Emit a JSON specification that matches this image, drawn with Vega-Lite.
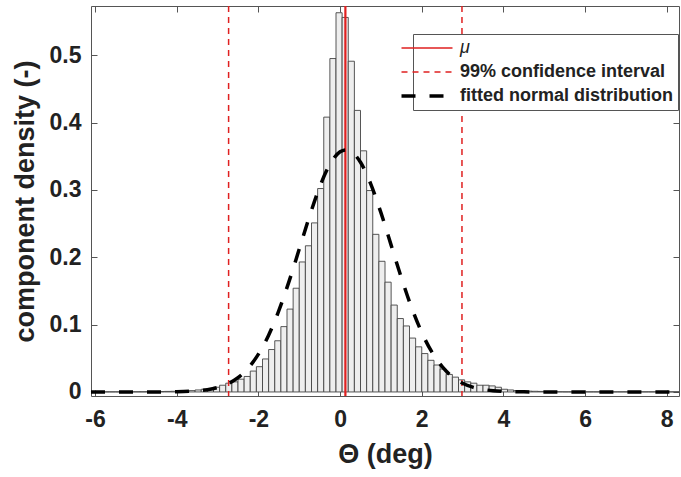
{
  "$schema": "https://vega.github.io/schema/vega-lite/v6.json",
  "autosize": "none",
  "width": 588,
  "height": 390,
  "padding": {"left": 91, "top": 6, "right": 2, "bottom": 81},
  "background": "white",
  "config": {
    "view": {"stroke": "#555555", "strokeWidth": 1},
    "font": "Liberation Sans",
    "axis": {"grid": false, "domain": false, "tickColor": "#555555", "tickSize": -6, "labelColor": "#222222", "titleColor": "#222222", "labelFont": "Liberation Sans", "titleFont": "Liberation Sans"}
  },
  "datasets": {
    "bins": [
      {"lo": -6.1, "hi": -5.95, "v": 0.0002}, {"lo": -5.95, "hi": -5.8, "v": 0.0002}, {"lo": -5.8, "hi": -5.65, "v": 0.0002},
      {"lo": -5.65, "hi": -5.5, "v": 0.0002}, {"lo": -5.5, "hi": -5.35, "v": 0.0002}, {"lo": -5.35, "hi": -5.2, "v": 0.0002},
      {"lo": -5.2, "hi": -5.05, "v": 0.0002}, {"lo": -5.05, "hi": -4.9, "v": 0.0003}, {"lo": -4.9, "hi": -4.75, "v": 0.0003},
      {"lo": -4.75, "hi": -4.6, "v": 0.0004}, {"lo": -4.6, "hi": -4.45, "v": 0.0004}, {"lo": -4.45, "hi": -4.3, "v": 0.0006},
      {"lo": -4.3, "hi": -4.15, "v": 0.0008}, {"lo": -4.15, "hi": -4.0, "v": 0.001}, {"lo": -4.0, "hi": -3.85, "v": 0.0012},
      {"lo": -3.85, "hi": -3.7, "v": 0.0016}, {"lo": -3.7, "hi": -3.55, "v": 0.002}, {"lo": -3.55, "hi": -3.4, "v": 0.003},
      {"lo": -3.4, "hi": -3.25, "v": 0.004}, {"lo": -3.25, "hi": -3.1, "v": 0.005}, {"lo": -3.1, "hi": -2.95, "v": 0.007},
      {"lo": -2.95, "hi": -2.8, "v": 0.010}, {"lo": -2.8, "hi": -2.65, "v": 0.013}, {"lo": -2.65, "hi": -2.5, "v": 0.015},
      {"lo": -2.5, "hi": -2.35, "v": 0.019}, {"lo": -2.35, "hi": -2.2, "v": 0.023}, {"lo": -2.2, "hi": -2.05, "v": 0.031},
      {"lo": -2.05, "hi": -1.9, "v": 0.0375}, {"lo": -1.9, "hi": -1.75, "v": 0.049}, {"lo": -1.75, "hi": -1.6, "v": 0.063},
      {"lo": -1.6, "hi": -1.45, "v": 0.076}, {"lo": -1.45, "hi": -1.3, "v": 0.097}, {"lo": -1.3, "hi": -1.15, "v": 0.123},
      {"lo": -1.15, "hi": -1.0, "v": 0.154}, {"lo": -1.0, "hi": -0.85, "v": 0.193}, {"lo": -0.85, "hi": -0.7, "v": 0.217},
      {"lo": -0.7, "hi": -0.55, "v": 0.251}, {"lo": -0.55, "hi": -0.4, "v": 0.302}, {"lo": -0.4, "hi": -0.25, "v": 0.408},
      {"lo": -0.25, "hi": -0.1, "v": 0.495}, {"lo": -0.1, "hi": 0.05, "v": 0.563}, {"lo": 0.05, "hi": 0.2, "v": 0.556},
      {"lo": 0.2, "hi": 0.35, "v": 0.491}, {"lo": 0.35, "hi": 0.5, "v": 0.418}, {"lo": 0.5, "hi": 0.65, "v": 0.358},
      {"lo": 0.65, "hi": 0.8, "v": 0.299}, {"lo": 0.8, "hi": 0.95, "v": 0.234}, {"lo": 0.95, "hi": 1.1, "v": 0.194},
      {"lo": 1.1, "hi": 1.25, "v": 0.163}, {"lo": 1.25, "hi": 1.4, "v": 0.129}, {"lo": 1.4, "hi": 1.55, "v": 0.109},
      {"lo": 1.55, "hi": 1.7, "v": 0.098}, {"lo": 1.7, "hi": 1.85, "v": 0.080}, {"lo": 1.85, "hi": 2.0, "v": 0.067},
      {"lo": 2.0, "hi": 2.15, "v": 0.057}, {"lo": 2.15, "hi": 2.3, "v": 0.047}, {"lo": 2.3, "hi": 2.45, "v": 0.040},
      {"lo": 2.45, "hi": 2.6, "v": 0.034}, {"lo": 2.6, "hi": 2.75, "v": 0.026}, {"lo": 2.75, "hi": 2.9, "v": 0.022},
      {"lo": 2.9, "hi": 3.05, "v": 0.018}, {"lo": 3.05, "hi": 3.2, "v": 0.015}, {"lo": 3.2, "hi": 3.35, "v": 0.013},
      {"lo": 3.35, "hi": 3.5, "v": 0.010}, {"lo": 3.5, "hi": 3.65, "v": 0.010}, {"lo": 3.65, "hi": 3.8, "v": 0.009},
      {"lo": 3.8, "hi": 3.95, "v": 0.007}, {"lo": 3.95, "hi": 4.1, "v": 0.004}, {"lo": 4.1, "hi": 4.25, "v": 0.003},
      {"lo": 4.25, "hi": 4.4, "v": 0.002}, {"lo": 4.4, "hi": 4.55, "v": 0.0015}, {"lo": 4.55, "hi": 4.7, "v": 0.0012},
      {"lo": 4.7, "hi": 4.85, "v": 0.001}, {"lo": 4.85, "hi": 5.0, "v": 0.0008}, {"lo": 5.0, "hi": 5.15, "v": 0.0006},
      {"lo": 5.15, "hi": 5.3, "v": 0.0004}, {"lo": 5.3, "hi": 5.45, "v": 0.0003}, {"lo": 5.45, "hi": 5.6, "v": 0.0002},
      {"lo": 5.6, "hi": 5.75, "v": 0.0002}, {"lo": 5.75, "hi": 5.9, "v": 0.0002}, {"lo": 5.9, "hi": 6.05, "v": 0.0002},
      {"lo": 6.05, "hi": 6.2, "v": 0.0002}, {"lo": 6.2, "hi": 6.35, "v": 0.0002}, {"lo": 6.35, "hi": 6.5, "v": 0.0002},
      {"lo": 6.5, "hi": 6.65, "v": 0.0002}, {"lo": 6.65, "hi": 6.8, "v": 0.0002}, {"lo": 6.8, "hi": 6.95, "v": 0.0002},
      {"lo": 6.95, "hi": 7.1, "v": 0.0002}, {"lo": 7.1, "hi": 7.25, "v": 0.0002}, {"lo": 7.25, "hi": 7.4, "v": 0.0002},
      {"lo": 7.4, "hi": 7.55, "v": 0.0002}, {"lo": 7.55, "hi": 7.7, "v": 0.0002}, {"lo": 7.7, "hi": 7.85, "v": 0.0002},
      {"lo": 7.85, "hi": 8.0, "v": 0.0002}, {"lo": 8.0, "hi": 8.15, "v": 0.0002}, {"lo": 8.15, "hi": 8.3, "v": 0.0002}
    ],
    "curve": [
      {"series": "fitted normal distribution", "x": -6.1, "d": 0},
      {"series": "fitted normal distribution", "x": -5.0, "d": 0.00001},
      {"series": "fitted normal distribution", "x": -4.5, "d": 0.00006},
      {"series": "fitted normal distribution", "x": -4.0, "d": 0.00034},
      {"series": "fitted normal distribution", "x": -3.5, "d": 0.0017},
      {"series": "fitted normal distribution", "x": -3.25, "d": 0.0034},
      {"series": "fitted normal distribution", "x": -3.0, "d": 0.0066},
      {"series": "fitted normal distribution", "x": -2.75, "d": 0.0121},
      {"series": "fitted normal distribution", "x": -2.5, "d": 0.0212},
      {"series": "fitted normal distribution", "x": -2.25, "d": 0.0354},
      {"series": "fitted normal distribution", "x": -2.0, "d": 0.0561},
      {"series": "fitted normal distribution", "x": -1.75, "d": 0.0843},
      {"series": "fitted normal distribution", "x": -1.5, "d": 0.1207},
      {"series": "fitted normal distribution", "x": -1.25, "d": 0.1641},
      {"series": "fitted normal distribution", "x": -1.0, "d": 0.2121},
      {"series": "fitted normal distribution", "x": -0.75, "d": 0.2606},
      {"series": "fitted normal distribution", "x": -0.5, "d": 0.3044},
      {"series": "fitted normal distribution", "x": -0.25, "d": 0.3379},
      {"series": "fitted normal distribution", "x": 0.0, "d": 0.3566},
      {"series": "fitted normal distribution", "x": 0.14, "d": 0.3594},
      {"series": "fitted normal distribution", "x": 0.25, "d": 0.3576},
      {"series": "fitted normal distribution", "x": 0.5, "d": 0.341},
      {"series": "fitted normal distribution", "x": 0.75, "d": 0.309},
      {"series": "fitted normal distribution", "x": 1.0, "d": 0.2662},
      {"series": "fitted normal distribution", "x": 1.25, "d": 0.218},
      {"series": "fitted normal distribution", "x": 1.5, "d": 0.1697},
      {"series": "fitted normal distribution", "x": 1.75, "d": 0.1255},
      {"series": "fitted normal distribution", "x": 2.0, "d": 0.0883},
      {"series": "fitted normal distribution", "x": 2.25, "d": 0.059},
      {"series": "fitted normal distribution", "x": 2.5, "d": 0.0375},
      {"series": "fitted normal distribution", "x": 2.75, "d": 0.0226},
      {"series": "fitted normal distribution", "x": 3.0, "d": 0.013},
      {"series": "fitted normal distribution", "x": 3.25, "d": 0.0071},
      {"series": "fitted normal distribution", "x": 3.5, "d": 0.0037},
      {"series": "fitted normal distribution", "x": 3.75, "d": 0.0018},
      {"series": "fitted normal distribution", "x": 4.0, "d": 0.00085},
      {"series": "fitted normal distribution", "x": 4.5, "d": 0.00016},
      {"series": "fitted normal distribution", "x": 5.0, "d": 0.00002},
      {"series": "fitted normal distribution", "x": 6.0, "d": 0},
      {"series": "fitted normal distribution", "x": 8.3, "d": 0}
    ],
    "lines": [
      {"series": "μ", "x": 0.13},
      {"series": "99% confidence interval", "x": -2.73},
      {"series": "99% confidence interval", "x": 2.985}
    ]
  },
  "layer": [
    {
      "data": {"name": "bins"},
      "mark": {"type": "rect", "fill": "#eeeeee", "stroke": "#444444", "strokeWidth": 0.9},
      "encoding": {
        "x": {"field": "lo", "type": "quantitative", "scale": {"domain": [-6.1, 8.3], "nice": false, "zero": false},
              "axis": {"orient": "bottom", "values": [-6, -4, -2, 0, 2, 4, 6, 8], "labelExpr": "'' + datum.value", "labelFontSize": 23, "labelFontWeight": "bold", "labelPadding": 18, "title": "Θ (deg)", "titleFontSize": 27, "titleFontWeight": "bold", "titlePadding": 10}},
        "x2": {"field": "hi"},
        "y": {"field": "v", "type": "quantitative", "scale": {"domain": [-0.006, 0.573], "nice": false, "zero": false},
              "axis": {"orient": "left", "values": [0, 0.1, 0.2, 0.3, 0.4, 0.5], "labelExpr": "'' + datum.value", "labelFontSize": 23, "labelFontWeight": "bold", "labelPadding": 16, "title": "component density (-)", "titleFontSize": 27, "titleFontWeight": "bold", "titlePadding": 10}},
        "y2": {"datum": 0}
      }
    },
    {
      "data": {"name": "lines"},
      "mark": {"type": "rule"},
      "encoding": {
        "x": {"field": "x", "type": "quantitative", "axis": null},
        "strokeWidth": {"condition": {"test": "datum.series === 'μ'", "value": 2.2}, "value": 1.5},
        "color": {"field": "series", "type": "nominal",
                  "scale": {"domain": ["μ", "99% confidence interval", "fitted normal distribution"], "range": ["#e02020", "#e02020", "#000000"]},
                  "legend": {"orient": "none", "legendX": 322, "legendY": 28, "title": null, "symbolType": "stroke", "symbolSize": 2601, "symbolOffset": 0, "fillColor": "white", "strokeColor": "#555555", "padding": 5, "labelFontSize": 18, "labelFontWeight": "bold", "labelColor": "#222222", "labelOffset": 24, "labelLimit": 400, "rowPadding": 6,
                             "encode": {"labels": {"update": {"fontStyle": {"signal": "datum.label === 'μ' ? 'italic' : 'normal'"}, "fontWeight": {"signal": "datum.label === 'μ' ? 'normal' : 'bold'"}}},
                                        "symbols": {"update": {"strokeWidth": {"signal": "datum.label === 'fitted normal distribution' ? 3.5 : 1.5"}}}}}},
        "strokeDash": {"field": "series", "type": "nominal",
                  "scale": {"domain": ["μ", "99% confidence interval", "fitted normal distribution"], "range": [[1, 0], [6, 5], [14, 14]]},
                  "legend": {"orient": "none", "legendX": 322, "legendY": 28, "title": null, "symbolType": "stroke", "symbolSize": 2601, "labelLimit": 400}}
      }
    },
    {
      "data": {"name": "curve"},
      "mark": {"type": "line", "interpolate": "monotone", "strokeWidth": 3.5},
      "encoding": {
        "x": {"field": "x", "type": "quantitative", "axis": {"orient": "top", "values": [-6, -4, -2, 0, 2, 4, 6, 8], "labels": false, "title": null}},
        "y": {"field": "d", "type": "quantitative", "axis": {"orient": "right", "values": [0, 0.1, 0.2, 0.3, 0.4, 0.5], "labels": false, "title": null}},
        "color": {"field": "series", "type": "nominal"},
        "strokeDash": {"field": "series", "type": "nominal"}
      }
    }
  ]
}
